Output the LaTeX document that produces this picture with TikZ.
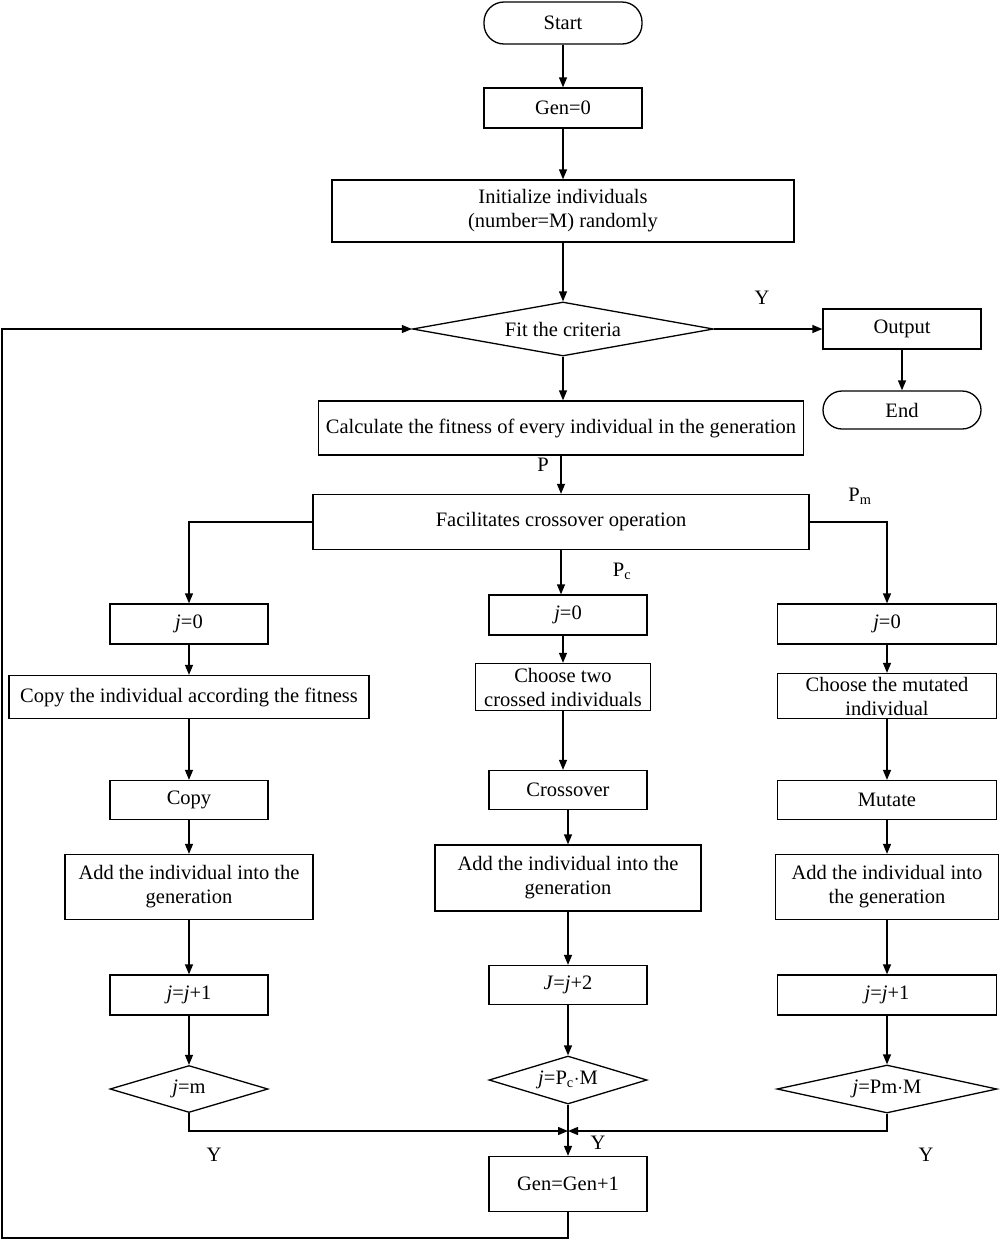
\documentclass[tikz,border=0pt]{standalone}
\usepackage{fontspec}
\setmainfont{Liberation Serif}
\usetikzlibrary{shapes.geometric,arrows.meta}
\begin{document}
\begin{tikzpicture}[x=1pt,y=-1pt,
  every node/.style={font=\fontsize{20.5}{24}\selectfont, align=center},
  box/.style={draw, line width=1.3pt, rectangle, inner sep=0pt},
  term/.style={box, rounded corners=20pt},
  dia/.style={draw, line width=1.3pt, diamond, inner sep=0pt},
  arr/.style={line width=1.3pt, -{Triangle[length=10pt,width=8pt]}},
  ln/.style={line width=1.3pt}]
\useasboundingbox (0,0) rectangle (1000,1240);
% top column
\node[term, minimum width=158pt, minimum height=42pt] (start) at (563,23) {Start};
\node[box, minimum width=158pt, minimum height=40pt] (gen0) at (563,108) {Gen=0};
\node[box, minimum width=462pt, minimum height=62pt] (init) at (563,211) {Initialize individuals\\(number=M) randomly};
\node[dia, aspect=5.57, minimum width=301pt, minimum height=54pt] (fit) at (563,329) {Fit the criteria};
\node[box, minimum width=158pt, minimum height=40pt] (output) at (902,329) {Output};
\node[term, minimum width=158pt, minimum height=38pt, rounded corners=19pt] (end) at (902,410) {End};
\node[box, minimum width=485pt, minimum height=54pt] (calc) at (561,428) {Calculate the fitness of every individual in the generation};
\node[box, minimum width=496pt, minimum height=55pt] (fac) at (561,522) {Facilitates crossover operation};
% left column
\node[box, minimum width=158pt, minimum height=40pt] (j0l) at (189,624) {\textit{j}=0};
\node[box, minimum width=360pt, minimum height=43pt] (copyind) at (189,697) {Copy the individual according the fitness};
\node[box, minimum width=158pt, minimum height=39pt] (copy) at (189,800) {Copy};
\node[box, minimum width=248pt, minimum height=65pt] (addl) at (189,887) {Add the individual into the\\generation};
\node[box, minimum width=158pt, minimum height=40pt] (incl) at (189,995) {\textit{j}=\textit{j}+1};
\node[dia, aspect=3.36, minimum width=158pt, minimum height=47pt] (dl) at (189,1089) {\textit{j}=m};
% middle column
\node[box, minimum width=158pt, minimum height=40pt] (j0m) at (568,615) {\textit{j}=0};
\node[box, minimum width=175pt, minimum height=47pt] (choose2) at (563,687) {Choose two\\crossed individuals};
\node[box, minimum width=158pt, minimum height=39pt] (cross) at (568,790) {Crossover};
\node[box, minimum width=266pt, minimum height=66pt] (addm) at (568,878) {Add the individual into the\\generation};
\node[box, minimum width=158pt, minimum height=39pt] (incm) at (568,985) {\textit{J}=\textit{j}+2};
\node[dia, aspect=3.3, minimum width=158pt, minimum height=48pt] (dm) at (568,1080) {\textit{j}=P\textsubscript{c}$\cdot$M};
% right column
\node[box, minimum width=219pt, minimum height=40pt] (j0r) at (887,624) {\textit{j}=0};
\node[box, minimum width=219pt, minimum height=45pt] (choosem) at (887,696) {Choose the mutated\\individual};
\node[box, minimum width=219pt, minimum height=39pt] (mut) at (887,800) {Mutate};
\node[box, minimum width=223pt, minimum height=65pt] (addr) at (887,887) {Add the individual into\\the generation};
\node[box, minimum width=219pt, minimum height=40pt] (incr) at (887,995) {\textit{j}=\textit{j}+1};
\node[dia, aspect=4.58, minimum width=220pt, minimum height=48pt] (dr) at (887,1089) {\textit{j}=Pm$\cdot$M};
% bottom
\node[box, minimum width=158pt, minimum height=55pt] (genp) at (568,1184) {Gen=Gen+1};
\coordinate (merge) at (568,1131);
% labels
\node (ly) at (762,298) {Y};
\node (lp) at (543,465) {P};
\node (lpm) at (860,496) {P\textsubscript{m}};
\node (lpc) at (622,571) {P\textsubscript{c}};
\node (ly1) at (214,1155) {Y};
\node (ly2) at (598,1143) {Y};
\node (ly3) at (926,1155) {Y};
% connectors
\draw[arr] (start) -- (gen0);
\draw[arr] (gen0) -- (init);
\draw[arr] (init) -- (fit);
\draw[arr] (fit) -- (output);
\draw[arr] (output) -- (end);
\draw[arr] (fit.south) -- (fit.south |- calc.north);
\draw[arr] (calc) -- (fac);
\draw[arr] (fac.west) -| (j0l.north);
\draw[arr] (fac.east) -| (j0r.north);
\draw[arr] (fac.south) -- (fac.south |- j0m.north);
% left
\draw[arr] (j0l) -- (copyind);
\draw[arr] (copyind) -- (copy);
\draw[arr] (copy) -- (addl);
\draw[arr] (addl) -- (incl);
\draw[arr] (incl) -- (dl);
% middle
\draw[arr] (j0m.south -| choose2.north) -- (choose2.north);
\draw[arr] (choose2.south) -- (choose2.south |- cross.north);
\draw[arr] (cross) -- (addm);
\draw[arr] (addm) -- (incm);
\draw[arr] (incm) -- (dm);
% right
\draw[arr] (j0r) -- (choosem);
\draw[arr] (choosem) -- (mut);
\draw[arr] (mut) -- (addr);
\draw[arr] (addr) -- (incr);
\draw[arr] (incr) -- (dr);
% merge
\draw[arr] (dl.south) |- (merge);
\draw[arr] (dr.south) |- (merge);
\draw[arr] (dm.south) -- (genp.north);
% loop back
\draw[arr] (genp.south) -- (568,1238) -- (2,1238) -- (2,329) -- (fit.west);
\end{tikzpicture}
\end{document}
